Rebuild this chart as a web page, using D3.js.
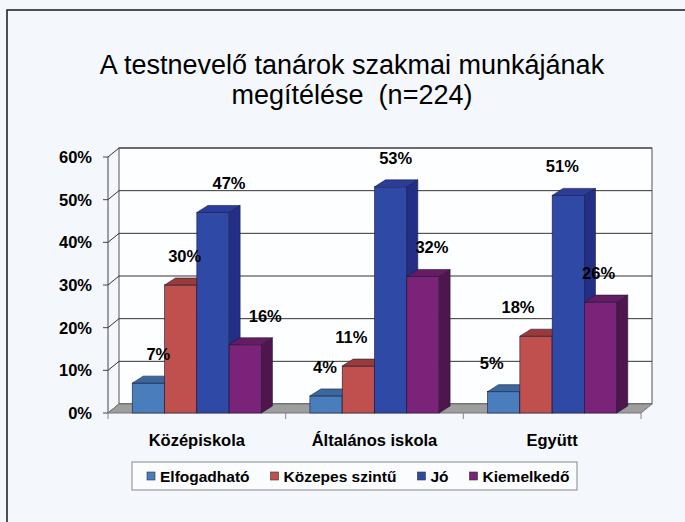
<!DOCTYPE html>
<html>
<head>
<meta charset="utf-8">
<script src="https://cdn.jsdelivr.net/npm/d3@7"></script>
<style>
	body { margin: 0; background: #f4f7fb; }
	text { font-family: "Liberation Sans", Arial, sans-serif; }
	.title { font-size: 27px; fill: #000; white-space: pre; }
	.axis-label, .data-label, .cat-label { font-size: 16.5px; font-weight: bold; fill: #000; }
	.legend-label { font-size: 15.5px; font-weight: bold; fill: #000; }
</style>
</head>
<body>
<div id="chart"></div>
<script>
var categories = ["Középiskola", "Általános iskola", "Együtt"];
var series = ["Elfogadható", "Közepes szintű", "Jó", "Kiemelkedő"];
var elfogadhato = [7, 4, 5];
var kozepes = [30, 11, 18];
var jo = [47, 53, 51];
var kiemelkedo = [16, 32, 26];
var yTicks = [0, 10, 20, 30, 40, 50, 60];

var values = [elfogadhato, kozepes, jo, kiemelkedo];

//front, top, side colours per series
var colors = [
	{front: "#4a7dbb", top: "#3a689e", side: "#2f5785"},
	{front: "#c0504d", top: "#9a3b39", side: "#7e2f2d"},
	{front: "#2f4aa6", top: "#2a3c9c", side: "#232f86"},
	{front: "#7b2378", top: "#651c63", side: "#4f164e"}
];

var width = 685, height = 522;
var svg = d3.select("#chart").append("svg")
	.attr("width", width)
	.attr("height", height);

//outer frame (top and left edge only)
svg.append("path")
	.attr("d", "M7," + height + "V10H" + width)
	.attr("fill", "none")
	.attr("stroke", "#1a1a1a")
	.attr("stroke-width", 1.5);

//title
svg.append("text").attr("class", "title")
	.attr("x", 352).attr("y", 74)
	.attr("text-anchor", "middle")
	.text("A testnevelő tanárok szakmai munkájának");
svg.append("text").attr("class", "title")
	.attr("x", 352).attr("y", 104)
	.attr("text-anchor", "middle")
	.text("megítélése  (n=224)");

///////////////////////////////////////////////////////////////////////////
//////////////////////////////// Scales ///////////////////////////////////
///////////////////////////////////////////////////////////////////////////

var DX = 11, DY = -9;     //depth of the walls
var BDX = 11, BDY = -7;   //depth of the bars

var x0 = d3.scaleBand()
	.domain(categories)
	.range([108, 641]);

var x1 = d3.scaleBand()
	.domain(series)
	.range([0, x0.bandwidth()])
	.paddingInner(0)
	.paddingOuter(0.75);

var y = d3.scaleLinear()
	.domain([0, 60])
	.range([413, 157]);

var x0min = x0.range()[0], x0max = x0.range()[1];

///////////////////////////////////////////////////////////////////////////
///////////////////////////////// Walls ///////////////////////////////////
///////////////////////////////////////////////////////////////////////////

//back wall
svg.append("rect")
	.attr("x", x0min + DX)
	.attr("y", y(60) + DY)
	.attr("width", x0max - x0min)
	.attr("height", y(0) - y(60))
	.attr("fill", "#fdfeff")
	.attr("stroke", "#555")
	.attr("stroke-width", 1);

//grid lines across the side and back wall
svg.selectAll(".grid")
	.data(yTicks)
	.enter().append("path")
	.attr("class", "grid")
	.attr("d", function(d) {
		return "M" + x0min + "," + y(d) + "L" + (x0min + DX) + "," + (y(d) + DY) + "H" + (x0max + DX);
	})
	.attr("fill", "none")
	.attr("stroke", "#333")
	.attr("stroke-width", 1);

//left wall front edge
svg.append("line")
	.attr("x1", x0min).attr("x2", x0min)
	.attr("y1", y(0)).attr("y2", y(60))
	.attr("stroke", "#444");

//floor
svg.append("path")
	.attr("d", "M" + x0min + "," + y(0) + "L" + (x0min + DX) + "," + (y(0) + DY) +
		"H" + (x0max + DX) + "L" + x0max + "," + y(0) + "Z")
	.attr("fill", "#9e9e9e")
	.attr("stroke", "#777")
	.attr("stroke-width", 1);

//y axis ticks + labels
svg.selectAll(".ytick")
	.data(yTicks)
	.enter().append("line")
	.attr("x1", x0min - 5).attr("x2", x0min)
	.attr("y1", function(d) { return y(d); })
	.attr("y2", function(d) { return y(d); })
	.attr("stroke", "#444");

svg.selectAll(".axis-label")
	.data(yTicks)
	.enter().append("text")
	.attr("class", "axis-label")
	.attr("x", 92)
	.attr("y", function(d) { return y(d) + 6; })
	.attr("text-anchor", "end")
	.text(function(d) { return d + "%"; });

//x axis ticks
var xTicks = categories.map(function(c) { return x0(c); }).concat([x0max]);
svg.selectAll(".xtick")
	.data(xTicks)
	.enter().append("line")
	.attr("x1", function(d) { return d; })
	.attr("x2", function(d) { return d; })
	.attr("y1", y(0)).attr("y2", y(0) + 6)
	.attr("stroke", "#888");

svg.selectAll(".cat-label")
	.data(categories)
	.enter().append("text")
	.attr("class", "cat-label")
	.attr("x", function(d) { return x0(d) + x0.bandwidth() / 2; })
	.attr("y", 446)
	.attr("text-anchor", "middle")
	.text(function(d) { return d; });

///////////////////////////////////////////////////////////////////////////
///////////////////////////////// Bars ////////////////////////////////////
///////////////////////////////////////////////////////////////////////////

var bw = x1.bandwidth();

categories.forEach(function(cat, ci) {
	series.forEach(function(s, si) {
		var v = values[si][ci];
		var x = x0(cat) + x1(s);
		var yt = y(v), yb = y(0);
		var g = svg.append("g");

		g.append("rect")
			.attr("x", x).attr("y", yt)
			.attr("width", bw).attr("height", yb - yt)
			.attr("fill", colors[si].front)
			.attr("stroke", "#1c1c3a")
			.attr("stroke-width", 0.6);

		g.append("path")
			.attr("d", "M" + x + "," + yt + "L" + (x + BDX) + "," + (yt + BDY) +
				"H" + (x + bw + BDX) + "L" + (x + bw) + "," + yt + "Z")
			.attr("fill", colors[si].top)
			.attr("stroke", "#1c1c3a")
			.attr("stroke-width", 0.6);

		g.append("path")
			.attr("d", "M" + (x + bw) + "," + yt + "L" + (x + bw + BDX) + "," + (yt + BDY) +
				"V" + (yb + BDY) + "L" + (x + bw) + "," + yb + "Z")
			.attr("fill", colors[si].side)
			.attr("stroke", "#1c1c3a")
			.attr("stroke-width", 0.6);
	});
});

//data labels - the 3D view pushes them right for the first group, left for the last
var labelShift = [10, 4, 16, 20];
categories.forEach(function(cat, ci) {
	series.forEach(function(s, si) {
		var v = values[si][ci];
		svg.append("text")
			.attr("class", "data-label")
			.attr("x", x0(cat) + x1(s) + bw / 2 + labelShift[si] - 11 * ci)
			.attr("y", y(v) - 23)
			.attr("text-anchor", "middle")
			.text(v + "%");
	});
});

///////////////////////////////////////////////////////////////////////////
//////////////////////////////// Legend ///////////////////////////////////
///////////////////////////////////////////////////////////////////////////

var legend = svg.append("g").attr("transform", "translate(132,462)");
legend.append("rect")
	.attr("width", 445).attr("height", 28)
	.attr("fill", "#fbfcfe")
	.attr("stroke", "#888");

var lx = 15;
series.forEach(function(s, si) {
	legend.append("rect")
		.attr("x", lx).attr("y", 10)
		.attr("width", 8).attr("height", 8)
		.attr("fill", colors[si].front)
		.attr("stroke", "#333")
		.attr("stroke-width", 0.6);
	var t = legend.append("text")
		.attr("class", "legend-label")
		.attr("x", lx + 13).attr("y", 19.5)
		.text(s);
	lx += 13 + t.node().getComputedTextLength() + 21;
});
</script>
</body>
</html>
